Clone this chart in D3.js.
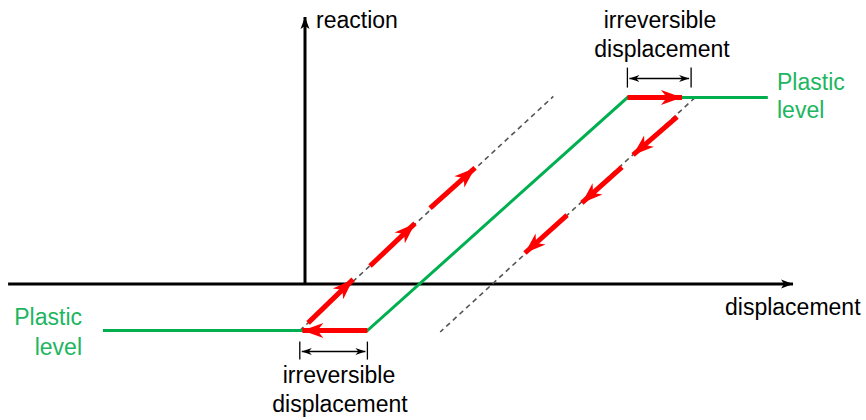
<!DOCTYPE html>
<html><head><meta charset="utf-8">
<script src="https://cdn.jsdelivr.net/npm/d3@7"></script>
<style>body{margin:0;background:#fff}svg{display:block}text{font-family:"Liberation Sans",Arial,sans-serif;font-size:23px}</style>
</head><body><div id="chart"></div>
<script>
// Schematic data in abstract units (displacement, reaction)
const axisX = [[-11.42, 0], [18.77, 0]];
const axisY = [[0, 0], [0, 11.46]];
const plasticPath = [[-7.77, -2], [2.4, -2], [12.4, 8], [17.8, 8]];
const unloadLeft = [[-0.2, -2], [9.55, 8.05]];
const unloadRight = [[15.0, 8], [5.2, -2.06]];
const redFlat = [[[2.4, -2], [-0.1, -2]], [[12.4, 8], [14.5, 8]]];
const redUp = [[[0.12, -1.67], [1.85, 0.2]], [[2.5, 0.77], [4.23, 2.6]], [[4.81, 3.26], [6.54, 4.98]]];
const redDown = [[[14.31, 7.17], [12.62, 5.54]], [[12.19, 5.02], [10.65, 3.48]], [[10.08, 2.96], [8.46, 1.33]]];
const dimTop = [12.4, 14.85];
const dimBottom = [-0.2, 2.4];
const labels = {reaction: "reaction", displacement: "displacement", irr1: "irreversible", irr2: "displacement", pl1: "Plastic", pl2: "level"};

const W = 866, H = 420;
const x = d3.scaleLinear().domain([0, 10]).range([305, 565]);
const y = d3.scaleLinear().domain([0, 10]).range([284, 51]);
const line = d3.line().x(d => x(d[0])).y(d => y(d[1]));

const svg = d3.select("#chart").append("svg").attr("width", W).attr("height", H);
const defs = svg.append("defs");
function marker(id, color, path, w, h) {
  defs.append("marker").attr("id", id).attr("markerUnits", "userSpaceOnUse")
    .attr("viewBox", `${-w} ${-h} ${w + 2} ${2 * h}`).attr("markerWidth", w + 2).attr("markerHeight", 2 * h)
    .attr("refX", 0).attr("refY", 0).attr("orient", "auto-start-reverse")
    .append("path").attr("d", path).attr("fill", color);
}
marker("redHead", "#ff0000", "M0,0 L-21,-7.5 L-15,0 L-21,7.5 Z", 22, 9);
marker("blackHead", "#000", "M0,0 L-12,-4.5 L-9,0 L-12,4.5 Z", 13, 5);
marker("dimHead", "#000", "M0,0 L-10,-3.5 L-7,0 L-10,3.5 Z", 11, 4);

// axes
svg.append("path").attr("d", line(axisX)).attr("stroke", "#000").attr("stroke-width", 3).attr("fill", "none").attr("marker-end", "url(#blackHead)");
svg.append("path").attr("d", line(axisY)).attr("stroke", "#000").attr("stroke-width", 3).attr("fill", "none").attr("marker-end", "url(#blackHead)");

// dashed unloading lines
[unloadLeft, unloadRight].forEach(p => svg.append("path").attr("d", line(p)).attr("stroke", "#555").attr("stroke-width", 1.6).attr("stroke-dasharray", "5,4").attr("fill", "none"));

// green plastic path
svg.append("path").attr("d", line(plasticPath)).attr("stroke", "#00b050").attr("stroke-width", 3).attr("fill", "none").attr("stroke-linejoin", "miter");

// red arrows
redFlat.concat(redUp, redDown).forEach(seg => svg.append("path").attr("d", line(seg)).attr("stroke", "#ff0000").attr("stroke-width", 5).attr("fill", "none").attr("marker-end", "url(#redHead)"));

// dimension markers
function dim(xs, yBase, t0, t1, ta) {
  const g = svg.append("g");
  xs.forEach(v => g.append("line").attr("x1", x(v)).attr("x2", x(v)).attr("y1", y(yBase) + t0).attr("y2", y(yBase) + t1).attr("stroke", "#000").attr("stroke-width", 1.3));
  g.append("line").attr("x1", x(xs[0]) + 2).attr("x2", x(xs[1]) - 2).attr("y1", y(yBase) + ta).attr("y2", y(yBase) + ta)
    .attr("stroke", "#000").attr("stroke-width", 1.5).attr("marker-start", "url(#dimHead)").attr("marker-end", "url(#dimHead)");
}
dim(dimTop, 8, -30, -10, -19);
dim(dimBottom, -2, 11, 29, 21);

// texts
const green = "#20b560";
svg.append("text").attr("x", 316).attr("y", 28).text(labels.reaction);
svg.append("text").attr("x", 725).attr("y", 315).text(labels.displacement);
svg.append("text").attr("x", 660).attr("y", 28).attr("text-anchor", "middle").text(labels.irr1);
svg.append("text").attr("x", 662).attr("y", 57).attr("text-anchor", "middle").text(labels.irr2);
svg.append("text").attr("x", 339).attr("y", 383).attr("text-anchor", "middle").text(labels.irr1);
svg.append("text").attr("x", 340).attr("y", 412).attr("text-anchor", "middle").text(labels.irr2);
svg.append("text").attr("x", 777).attr("y", 90).attr("fill", green).text(labels.pl1);
svg.append("text").attr("x", 777).attr("y", 118).attr("fill", green).text(labels.pl2);
svg.append("text").attr("x", 82).attr("y", 325).attr("fill", green).attr("text-anchor", "end").text(labels.pl1);
svg.append("text").attr("x", 82).attr("y", 355).attr("fill", green).attr("text-anchor", "end").text(labels.pl2);
</script></body></html>
